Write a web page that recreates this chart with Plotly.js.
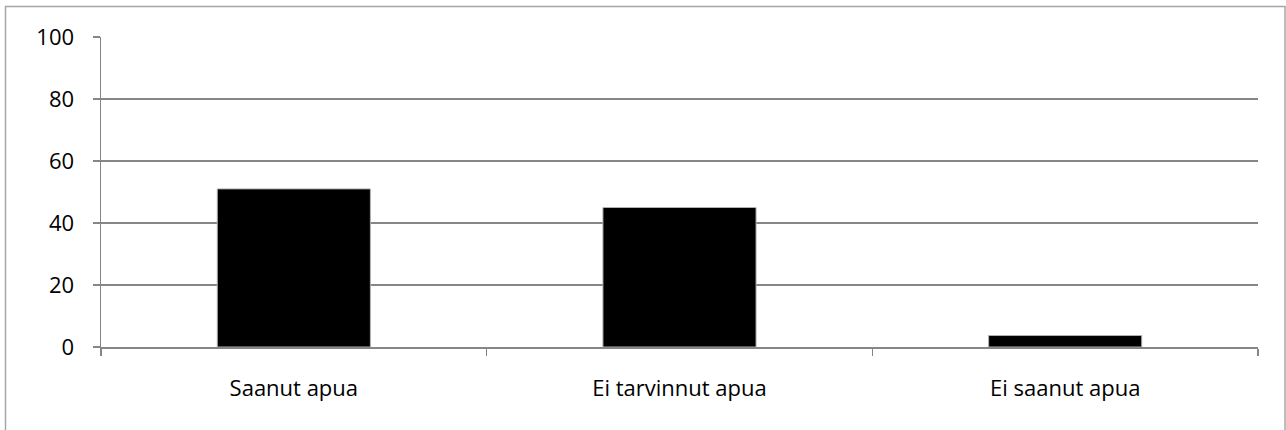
<!DOCTYPE html>
<html>
<head>
<meta charset="utf-8">
<script src="https://cdn.plot.ly/plotly-3.0.1.min.js"></script>
<style>html,body{margin:0;padding:0;background:#fff;}#chart{width:1286px;height:430px;}</style>
</head>
<body>
<div id="chart"></div>
<script>
const categories = ["Saanut apua", "Ei tarvinnut apua", "Ei saanut apua"];
const values = [51, 45, 3.7];
const yTicks = [0, 20, 40, 60, 80, 100];

const trace = {
  type: "bar",
  x: categories,
  y: values,
  marker: { color: "#000000", line: { color: "#b0b0b0", width: 1 } },
  hoverinfo: "x+y"
};

const layout = {
  width: 1286,
  height: 430,
  margin: { l: 101, r: 28, t: 37, b: 83 },
  paper_bgcolor: "#ffffff",
  plot_bgcolor: "#ffffff",
  showlegend: false,
  bargap: 0.603,
  font: { family: "Open Sans, sans-serif", size: 22, color: "#000000" },
  xaxis: {
    type: "category",
    showgrid: false,
    showline: true,
    linecolor: "#868686",
    linewidth: 1.5,
    ticks: "outside",
    tickson: "boundaries",
    ticklen: 7,
    tickcolor: "#868686",
    tickwidth: 1.5,
    ticklabelstandoff: 21,
    zeroline: false,
    fixedrange: true
  },
  yaxis: {
    range: [0, 100],
    tickvals: yTicks,
    ticktext: yTicks.map(String),
    showgrid: true,
    gridcolor: "#868686",
    gridwidth: 1.5,
    showline: true,
    linecolor: "#868686",
    linewidth: 1.5,
    ticks: "outside",
    ticklen: 7,
    tickcolor: "#868686",
    tickwidth: 1.5,
    ticklabelstandoff: 14,
    zeroline: false,
    fixedrange: true
  },
  shapes: [{
    type: "rect", xref: "paper", yref: "paper",
    x0: (5.5 - 101) / 1157, x1: (1285 - 101) / 1157,
    y0: (347 - 440) / 310, y1: (347 - 6.5) / 310,
    line: { color: "#a6a6a6", width: 1.5 }, fillcolor: "rgba(0,0,0,0)", layer: "below"
  }]
};

Plotly.newPlot("chart", [trace], layout, { displayModeBar: false, staticPlot: true });
</script>
</body>
</html>
